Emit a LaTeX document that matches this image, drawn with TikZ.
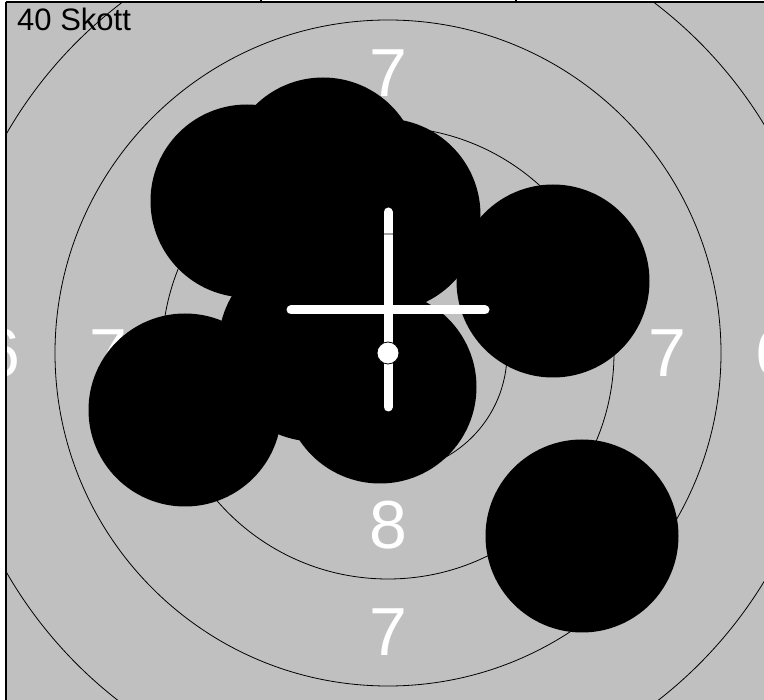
\documentclass[tikz,border=0pt]{standalone}
\usepackage{fontspec}
\setmainfont{Liberation Sans}
\usetikzlibrary{positioning}
\definecolor{board}{HTML}{C0C0C0}
\tikzset{
  ring/.style={draw=black, line width=0.8pt},
  hole/.style={fill=black},
  aim/.style={draw=white, line width=9pt, line cap=round},
  score/.style={text=white, inner sep=0pt, font=\fontsize{68}{68}\selectfont},
  lbl/.style={text=black, inner sep=0pt, font=\fontsize{31}{31}\selectfont},
  rim/.style={draw=black, line width=1.2pt},
}

\begin{document}
\begin{tikzpicture}[x=1pt, y=-1pt]
  \useasboundingbox (0,0) rectangle (764,700);
  \fill[white] (0,0) rectangle (764,700);

  % ---- target face ------------------------------------------------------
  \begin{scope}
    \clip (6,2) rectangle (764,700);
    \fill[board] (6,2) rectangle (764,700);
    \coordinate (mid) at (388,353);

    % scores
    \node[score] (s6w) at (1.5,353) {6};
    \node[score] (s6e) at (774.5,353) {6};
    \node[score] (s7n) at (388,73.5) {7};
    \node[score] (s7s) at (388,632.5) {7};
    \node[score] (s7w) at (108.5,353) {7};
    \node[score] (s7e) at (667.5,353) {7};
    \node[score] (s8s) at (388,525.5) {8};
    \node[score] (s8e) at (560.5,353) {8};

    % hits
    \foreach \x/\y in {582/536, 185/410, 553/281, 247/201,
                       323/174, 384/215, 380/387, 315/345} {
      \fill[hole] (\x,\y) circle (96.5);
    }

    % mean point of impact
    \draw[aim] (291,310) -- (485,310);
    \draw[aim] (388,212) -- (388,407);

    % rings
    \foreach \r in {119,226,333,440} { \draw[ring] (mid) circle (\r); }
    \filldraw[ring, fill=white] (mid) circle (11);
  \end{scope}

  % ---- frame ------------------------------------------------------------
  \draw[rim] (6,2) -- (6,700);
  \draw[rim] (6,2) -- (764,2);
  \draw[rim] (261,0) -- (261,2);
  \draw[rim] (516,0) -- (516,2);

  \node[lbl, anchor=base west] (skott) at (17,31) {40 Skott};
\end{tikzpicture}
\end{document}
